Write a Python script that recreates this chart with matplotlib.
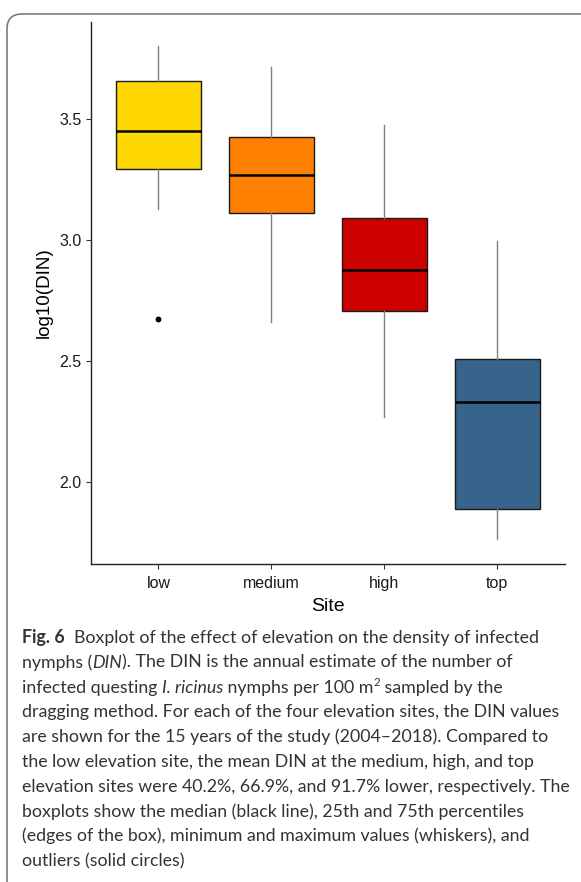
import matplotlib
matplotlib.use("Agg")
import matplotlib.pyplot as plt
from matplotlib.patches import FancyBboxPatch

# ---- data ----
sites = ["low", "medium", "high", "top"]
whisker_low = [3.128, 2.661, 2.269, 1.764]
q1 = [3.293, 3.112, 2.707, 1.888]
median = [3.450, 3.269, 2.876, 2.331]
q3 = [3.657, 3.426, 3.089, 2.508]
whisker_high = [3.800, 3.715, 3.475, 2.996]
outliers = [[2.674], [], [], []]
colors = ["#FFD700", "#FF7F00", "#CD0000", "#36648B"]
yticks = [2.0, 2.5, 3.0, 3.5]

W, H = 581, 882
fig = plt.figure(figsize=(W / 100, H / 100), dpi=100)

# rounded frame (left and top edges visible), in inches
frame = FancyBboxPatch((0.07, -0.4), 6.5, 8.68 + 0.4,
                       boxstyle="round,pad=0,rounding_size=0.15",
                       transform=fig.dpi_scale_trans, fill=False,
                       edgecolor="#707070", linewidth=1.1, clip_on=False)
fig.patches.append(frame)

ax_l, ax_r, ax_t, ax_b = 90.7, 565.0, 22.0, 564.0
ax = fig.add_axes([ax_l / W, 1 - ax_b / H, (ax_r - ax_l) / W, (ax_b - ax_t) / H])

stats = []
for i, s in enumerate(sites):
    stats.append(dict(label=s, med=median[i], q1=q1[i], q3=q3[i],
                      whislo=whisker_low[i], whishi=whisker_high[i],
                      fliers=outliers[i]))
bp = ax.bxp(stats, positions=range(1, 5), widths=0.75, patch_artist=True,
            showcaps=False,
            boxprops=dict(edgecolor="#1a1a1a", linewidth=1.0),
            medianprops=dict(color="black", linewidth=1.8),
            whiskerprops=dict(color="#808080", linewidth=1.0),
            flierprops=dict(marker="o", markerfacecolor="black",
                            markeredgecolor="black", markersize=3.2))
for patch, c in zip(bp["boxes"], colors):
    patch.set_facecolor(c)

ax.set_xlim(0.4, 4.6)
ax.set_ylim(1.661, 3.901)
ax.set_yticks(yticks)
ax.set_yticklabels([f"{t:.1f}" for t in yticks])
for sp in ["top", "right"]:
    ax.spines[sp].set_visible(False)
for sp in ["left", "bottom"]:
    ax.spines[sp].set_linewidth(1.0)
    ax.spines[sp].set_color("#222222")
ax.tick_params(axis="both", length=3.5, width=0.8, color="#333333",
               labelsize=11.5, labelcolor="#1a1a1a")
ax.tick_params(axis="y", pad=3)
ax.tick_params(axis="x", pad=5)
for lab in ax.get_xticklabels() + ax.get_yticklabels():
    lab.set_fontfamily("Liberation Sans")
ax.set_xlabel("Site", fontsize=14, fontfamily="Liberation Sans", labelpad=5)
ax.set_ylabel("log10(DIN)", fontsize=13.6, fontfamily="Liberation Sans", labelpad=5)

# ---- caption ----
cap_lines = [
    [("Fig. 6", "bold"), ("  Boxplot of the effect of elevation on the density of infected", "normal")],
    [("nymphs (", "normal"), ("DIN", "italic"), ("). The DIN is the annual estimate of the number of", "normal")],
    [("infected questing ", "normal"), ("I. ricinus", "italic"), (" nymphs per 100 m", "normal"), ("2", "sup"), (" sampled by the", "normal")],
    [("dragging method. For each of the four elevation sites, the DIN values", "normal")],
    [("are shown for the 15 years of the study (2004\u20132018). Compared to", "normal")],
    [("the low elevation site, the mean DIN at the medium, high, and top", "normal")],
    [("elevation sites were 40.2%, 66.9%, and 91.7% lower, respectively. The", "normal")],
    [("boxplots show the median (black line), 25th and 75th percentiles", "normal")],
    [("(edges of the box), minimum and maximum values (whiskers), and", "normal")],
    [("outliers (solid circles)", "normal")],
]

fam = "Lato"
renderer = fig.canvas.get_renderer()

def seg_props(kind, fs):
    if kind == "bold":
        return dict(fontweight="bold", fontstyle="normal", fontsize=fs)
    if kind == "italic":
        return dict(fontweight="normal", fontstyle="italic", fontsize=fs)
    if kind == "sup":
        return dict(fontweight="normal", fontstyle="normal", fontsize=fs * 0.65)
    return dict(fontweight="normal", fontstyle="normal", fontsize=fs)

def measure(text, props):
    t = fig.text(0, 0, text, fontfamily=fam, **props)
    w = t.get_window_extent(renderer).width
    t.remove()
    return w

# scale font so the long lines span about the same width as in the reference
base = 10.0
wref = measure(cap_lines[3][0][0], seg_props("normal", base))
fs = base * (536.0 / wref)

x0 = 22
for i, line in enumerate(cap_lines):
    base_y = 643 + 24.8 * i
    x = x0
    for text, kind in line:
        props = seg_props(kind, fs)
        yy = base_y - (fs * 0.55 if kind == "sup" else 0)
        t = fig.text(x / W, 1 - yy / H, text, fontfamily=fam, va="baseline",
                     ha="left", color="#333333", **props)
        x += t.get_window_extent(renderer).width

fig.savefig("out.png", dpi=100)
